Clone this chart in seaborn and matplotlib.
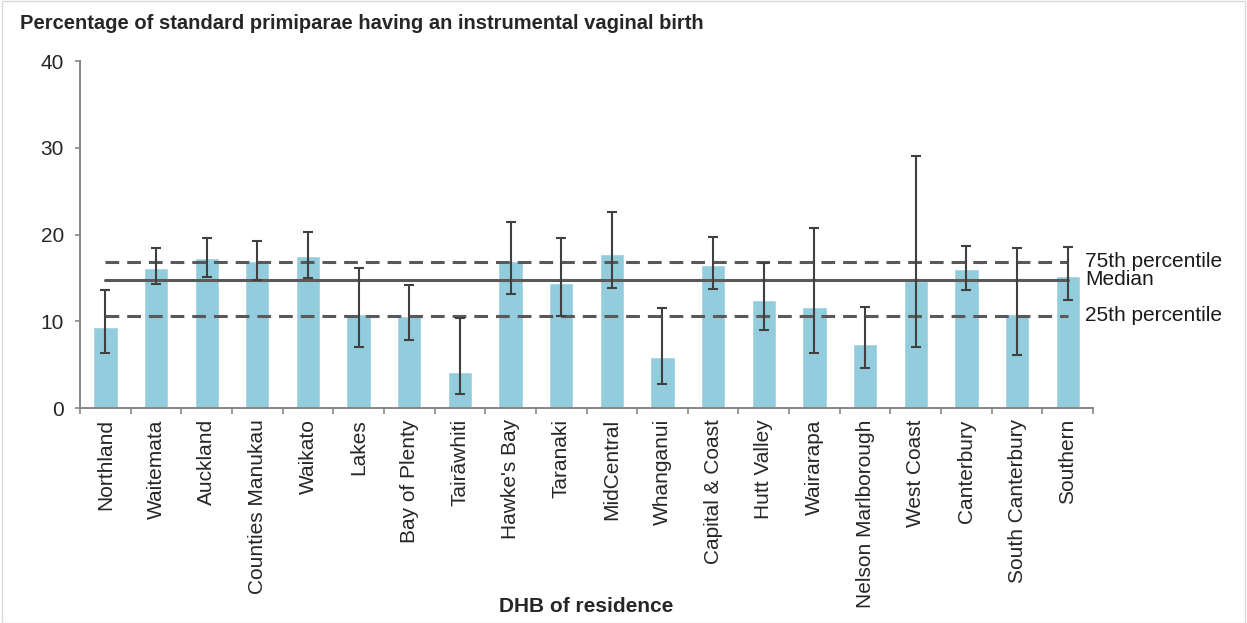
import numpy as np
import pandas as pd
import matplotlib
matplotlib.use("Agg")
import matplotlib.pyplot as plt
from matplotlib.ticker import FixedLocator
import seaborn as sns

# DHB values
dhbs = ["Northland", "Waitemata", "Auckland", "Counties Manukau", "Waikato", "Lakes",
        "Bay of Plenty", "Tairāwhiti", "Hawke's Bay", "Taranaki", "MidCentral", "Whanganui",
        "Capital & Coast", "Hutt Valley", "Wairarapa", "Nelson Marlborough", "West Coast",
        "Canterbury", "South Canterbury", "Southern"]
pct = [9.3, 16.2, 17.3, 16.9, 17.5, 10.8, 10.6, 4.15, 16.9, 14.4,
       17.8, 5.85, 16.5, 12.4, 11.6, 7.4, 14.7, 16.0, 10.8, 15.2]
ci_low = [6.35, 14.3, 15.1, 14.8, 15.0, 7.0, 7.9, 1.65, 13.15, 10.6,
          13.85, 2.8, 13.7, 8.95, 6.3, 4.6, 7.0, 13.6, 6.15, 12.4]
ci_high = [13.6, 18.4, 19.6, 19.2, 20.35, 16.2, 14.2, 10.4, 21.5, 19.6,
           22.55, 11.55, 19.7, 16.7, 20.7, 11.6, 29.1, 18.7, 18.4, 18.6]

p25 = 10.65
median = 14.77
p75 = 16.85

df = pd.DataFrame({"dhb": dhbs, "pct": pct, "lo": ci_low, "hi": ci_high})

sns.set_theme(style="white")
plt.rcParams["font.family"] = ["Liberation Sans", "DejaVu Sans"]

fig = plt.figure(figsize=(12.47, 6.23), dpi=100)
ax = fig.add_axes([0.0642, 0.345, 0.8123, 0.557])

sns.barplot(data=df, x="dhb", y="pct", color="#93CDDD", saturation=1, width=0.48,
            ax=ax, errorbar=None)

xs = np.arange(len(df))
yerr = np.vstack([df["pct"] - df["lo"], df["hi"] - df["pct"]])
ax.errorbar(xs, df["pct"], yerr=yerr, fmt="none", ecolor="#404040",
            elinewidth=1.5, capsize=3.8, capthick=1.5, zorder=4)

# reference lines from first to last DHB
line_x = [xs[0], xs[-1]]
ax.plot(line_x, [p75] * 2, color="#595959", lw=2.2, ls=(0, (4.5, 2.6)), zorder=3)
ax.plot(line_x, [median] * 2, color="#595959", lw=2.2, zorder=3)
ax.plot(line_x, [p25] * 2, color="#595959", lw=2.2, ls=(0, (4.5, 2.6)), zorder=3)

lab_x = xs[-1] + 0.35
ax.text(lab_x, p75, "75th percentile", va="center", ha="left", fontsize=15, color="#1a1a1a")
ax.text(lab_x, median, "Median", va="center", ha="left", fontsize=15, color="#1a1a1a")
ax.text(lab_x, p25, "25th percentile", va="center", ha="left", fontsize=15, color="#1a1a1a")

ax.set_xlim(-0.5, len(df) - 0.5)
ax.set_ylim(0, 40)
ax.set_yticks([0, 10, 20, 30, 40])
ax.set_xlabel("")
ax.set_ylabel("")

for side in ["top", "right"]:
    ax.spines[side].set_visible(False)
for side in ["left", "bottom"]:
    ax.spines[side].set_color("#868686")
    ax.spines[side].set_linewidth(1.4)

ax.tick_params(axis="y", direction="out", length=3.5, width=1.2, color="#868686",
               labelsize=15, labelcolor="#262626", pad=8, left=True)
ax.tick_params(axis="x", which="major", length=0, labelsize=15, labelcolor="#262626",
               pad=8, rotation=90)
ax.xaxis.set_minor_locator(FixedLocator(np.arange(-0.5, len(df), 1.0)))
ax.tick_params(axis="x", which="minor", direction="out", length=4, width=1.2,
               color="#868686", bottom=True)

fig.text(0.016, 0.963, "Percentage of standard primiparae having an instrumental vaginal birth",
         fontsize=14.5, fontweight="bold", color="#262626", va="center", ha="left")
fig.text(0.47, 0.026, "DHB of residence", fontsize=15, fontweight="bold",
         color="#262626", va="center", ha="center")

# thin frame round the picture
fig.patches.append(plt.Rectangle((0.002, 0.0), 0.996, 0.998, transform=fig.transFigure,
                                 fill=False, edgecolor="#d9d9d9", lw=1))

fig.savefig("out.png", dpi=100)
